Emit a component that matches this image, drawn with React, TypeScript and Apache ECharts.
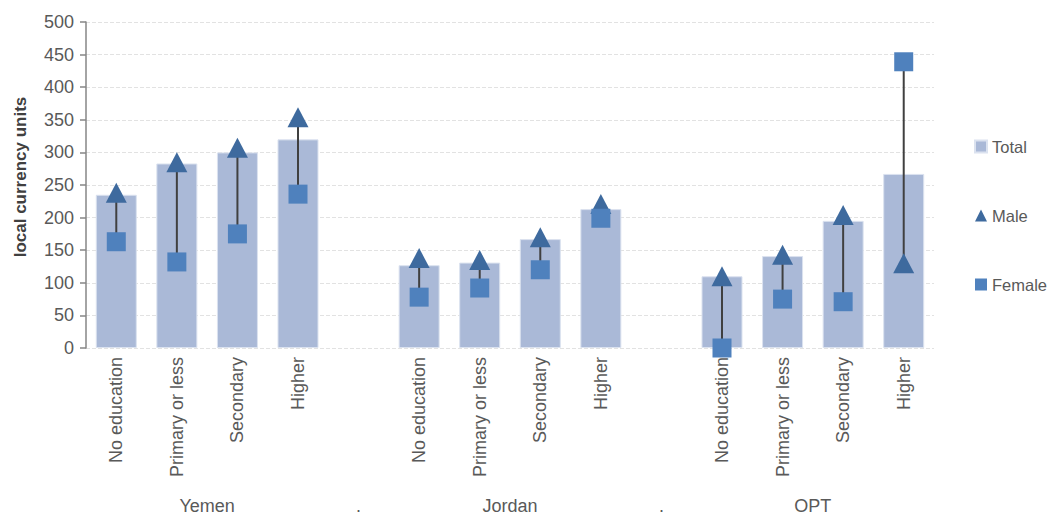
import React, { useEffect, useRef } from "react";
import * as echarts from "echarts";

const educationLevels = ["No education", "Primary or less", "Secondary", "Higher"];
const countries = ["Yemen", "Jordan", "OPT"];
const separatorLabel = ".";

const totalYemen = [235, 283, 300, 320];
const maleYemen = [238, 285, 307, 354];
const femaleYemen = [163, 132, 175, 236];

const totalJordan = [127, 131, 167, 213];
const maleJordan = [138, 135, 170, 221];
const femaleJordan = [78, 92, 120, 199];

const totalOPT = [110, 141, 195, 267];
const maleOPT = [110, 143, 204, 130];
const femaleOPT = [0, 75, 71, 439];

const yTicks = [0, 50, 100, 150, 200, 250, 300, 350, 400, 450, 500];

const FONT = "'Liberation Sans', Arial, sans-serif";

export default function App() {
  const ref = useRef<HTMLDivElement>(null);

  useEffect(() => {
    document.body.style.margin = "0";
    if (!ref.current) return;
    const chart = echarts.init(ref.current, undefined, { renderer: "svg" });

    const totals = [totalYemen, totalJordan, totalOPT];
    const males = [maleYemen, maleJordan, maleOPT];
    const females = [femaleYemen, femaleJordan, femaleOPT];

    const categories: string[] = [];
    const totalData: (number | string)[] = [];
    const maleData: (number | string)[] = [];
    const femaleData: (number | string)[] = [];
    const rangeData: number[][] = [];
    const groupPos: { pos: number; label: string }[] = [];

    countries.forEach((c, ci) => {
      if (ci > 0) {
        groupPos.push({ pos: categories.length + 0.5, label: separatorLabel });
        categories.push("");
        totalData.push("-");
        maleData.push("-");
        femaleData.push("-");
      }
      groupPos.push({ pos: categories.length + educationLevels.length / 2, label: c });
      educationLevels.forEach((lvl, li) => {
        const idx = categories.length;
        categories.push(lvl);
        totalData.push(totals[ci][li]);
        maleData.push(males[ci][li]);
        femaleData.push(females[ci][li]);
        rangeData.push([idx, males[ci][li], females[ci][li]]);
      });
    });

    const n = categories.length;

    chart.setOption({
      animation: false,
      textStyle: { fontFamily: FONT },
      grid: { left: 86, right: 115, top: 22, bottom: 168, containLabel: false },
      legend: {
        orient: "vertical",
        left: 974,
        top: 138,
        padding: 0,
        itemWidth: 12,
        itemHeight: 12,
        itemGap: 52,
        textStyle: { fontSize: 16.5, color: "#595959", fontFamily: FONT, lineHeight: 17 },
        data: [
          { name: "Total", icon: "rect" },
          { name: "Male", icon: "triangle" },
          { name: "Female", icon: "rect" },
        ],
      },
      xAxis: [
        {
          type: "category",
          data: categories,
          axisLine: { show: false },
          axisTick: { show: false },
          axisLabel: {
            rotate: 90,
            interval: 0,
            margin: 9,
            fontSize: 18,
            color: "#595959",
            fontFamily: FONT,
          },
        },
        {
          type: "value",
          min: 0,
          max: n,
          interval: 0.5,
          position: "bottom",
          offset: 149,
          axisLine: { show: false },
          axisTick: { show: false },
          splitLine: { show: false },
          axisLabel: {
            margin: 0,
            fontSize: 18,
            color: "#595959",
            fontFamily: FONT,
            formatter: (v: number) => {
              const g = groupPos.find((p) => Math.abs(p.pos - v) < 1e-6);
              return g ? g.label : "";
            },
          },
        },
      ],
      yAxis: {
        type: "value",
        min: yTicks[0],
        max: yTicks[yTicks.length - 1],
        interval: 50,
        name: "local currency units",
        nameLocation: "middle",
        nameGap: 57,
        nameTextStyle: {
          fontSize: 17,
          fontWeight: "bold",
          color: "#404040",
          fontFamily: FONT,
          padding: [0, 0, 0, 16],
        },
        axisLine: { show: true, lineStyle: { color: "#868686", width: 1.5 } },
        axisTick: { show: true, length: 6, lineStyle: { color: "#868686", width: 1.5 } },
        axisLabel: { fontSize: 18, color: "#595959", margin: 12, fontFamily: FONT },
        splitLine: { show: true, lineStyle: { color: "#e2e2e2", type: [4, 2], width: 1 } },
      },
      series: [
        {
          name: "Total",
          type: "bar",
          data: totalData,
          barWidth: 41,
          itemStyle: { color: "#AAB9D7", borderColor: "#dbe2ef", borderWidth: 1 },
          z: 1,
        },
        {
          type: "custom",
          data: rangeData,
          encode: { x: 0, y: [1, 2] },
          renderItem: (_params: any, api: any) => {
            const x = api.value(0);
            const p1 = api.coord([x, api.value(1)]);
            const p2 = api.coord([x, api.value(2)]);
            return {
              type: "line",
              shape: { x1: p1[0], y1: p1[1], x2: p2[0], y2: p2[1] },
              style: { stroke: "#404040", lineWidth: 2 },
            };
          },
          silent: true,
          z: 2,
        },
        {
          name: "Male",
          type: "scatter",
          data: maleData,
          symbol: "triangle",
          symbolSize: [21, 20],
          itemStyle: { color: "#3E6A9E", opacity: 1 },
          z: 3,
        },
        {
          name: "Female",
          type: "scatter",
          data: femaleData,
          symbol: "rect",
          symbolSize: 19,
          itemStyle: { color: "#4F81BD", opacity: 1 },
          z: 4,
        },
      ],
    });

    return () => chart.dispose();
  }, []);

  return <div ref={ref} style={{ width: 1049, height: 516 }} />;
}
